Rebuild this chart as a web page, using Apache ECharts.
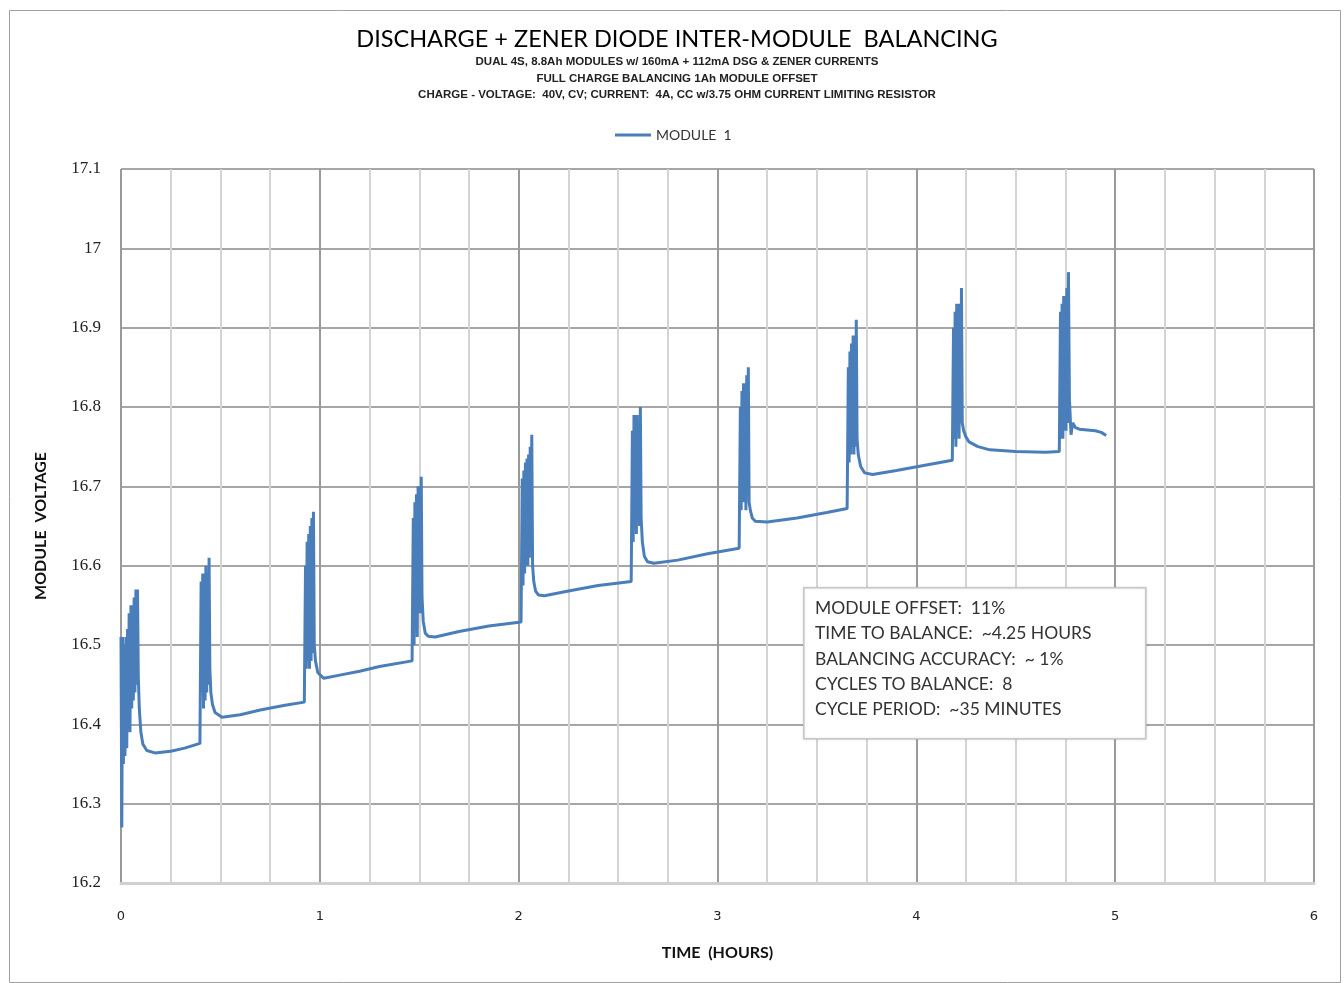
<!DOCTYPE html>
<html>
<head>
<meta charset="utf-8">
<script src="https://cdn.jsdelivr.net/npm/echarts@6/dist/echarts.min.js"></script>
<style>html,body{margin:0;padding:0;background:#fff}#c{width:1344px;height:983px}</style>
</head>
<body>
<div id="c"></div>
<script>
// Time (hours) and module voltage (V)
const timeHours = [
  0.000,0.004,0.008,0.012,0.016,0.020,0.025,0.029,0.033,0.037,0.041,0.045,0.050,0.054,0.058,0.062,0.066,0.070,0.075,0.079,0.083,0.087,0.092,0.100,0.110,0.130,0.170,0.250,0.320,0.397,
  0.400,0.403,0.407,0.411,0.415,0.419,0.423,0.427,0.431,0.435,0.439,0.443,0.447,0.452,0.460,0.473,0.508,0.600,0.700,0.825,0.922,
  0.925,0.928,0.932,0.936,0.940,0.944,0.948,0.952,0.956,0.960,0.964,0.968,0.972,0.978,0.990,1.020,1.100,1.200,1.300,1.464,
  1.467,1.470,1.474,1.478,1.482,1.486,1.490,1.494,1.498,1.502,1.506,1.510,1.514,1.520,1.530,1.545,1.580,1.700,1.850,2.012,
  2.015,2.018,2.022,2.026,2.030,2.034,2.038,2.042,2.046,2.050,2.054,2.058,2.062,2.066,2.070,2.076,2.085,2.100,2.130,2.250,2.400,2.566,
  2.569,2.572,2.576,2.580,2.584,2.588,2.592,2.596,2.600,2.604,2.608,2.612,2.616,2.622,2.632,2.648,2.680,2.800,2.950,3.109,
  3.112,3.115,3.119,3.123,3.127,3.131,3.135,3.139,3.143,3.147,3.151,3.155,3.159,3.165,3.175,3.190,3.250,3.400,3.550,3.652,
  3.655,3.658,3.662,3.666,3.670,3.674,3.678,3.682,3.686,3.690,3.694,3.698,3.702,3.708,3.720,3.740,3.780,3.900,4.050,4.181,
  4.184,4.187,4.191,4.195,4.199,4.203,4.207,4.211,4.215,4.219,4.223,4.227,4.231,4.238,4.250,4.265,4.310,4.370,4.500,4.650,4.719,
  4.722,4.725,4.729,4.733,4.737,4.741,4.745,4.749,4.753,4.757,4.761,4.765,4.770,4.778,4.786,4.800,4.820,4.900,4.930,4.955
];
const moduleVoltage = [
  16.51,16.27,16.51,16.35,16.50,16.36,16.51,16.37,16.52,16.40,16.54,16.39,16.55,16.42,16.55,16.43,16.56,16.44,16.57,16.45,16.57,16.46,16.42,16.39,16.375,16.367,16.364,16.366,16.370,16.376,
  16.376,16.58,16.44,16.59,16.42,16.59,16.43,16.60,16.44,16.59,16.45,16.61,16.47,16.44,16.425,16.415,16.409,16.412,16.418,16.424,16.428,
  16.428,16.60,16.47,16.63,16.48,16.64,16.47,16.65,16.48,16.66,16.49,16.668,16.50,16.48,16.465,16.458,16.462,16.467,16.473,16.480,
  16.480,16.66,16.50,16.68,16.52,16.69,16.51,16.70,16.55,16.70,16.54,16.712,16.56,16.53,16.515,16.511,16.510,16.517,16.524,16.529,
  16.529,16.71,16.575,16.72,16.59,16.73,16.60,16.735,16.60,16.74,16.61,16.75,16.62,16.765,16.60,16.58,16.568,16.563,16.562,16.568,16.575,16.580,
  16.580,16.77,16.63,16.79,16.65,16.79,16.64,16.79,16.66,16.78,16.65,16.80,16.66,16.63,16.612,16.605,16.603,16.607,16.615,16.622,
  16.622,16.80,16.67,16.82,16.68,16.83,16.68,16.83,16.67,16.84,16.69,16.85,16.68,16.67,16.66,16.656,16.655,16.660,16.667,16.672,
  16.672,16.85,16.73,16.87,16.74,16.88,16.75,16.89,16.74,16.89,16.75,16.91,16.76,16.74,16.725,16.717,16.715,16.720,16.727,16.733,
  16.733,16.90,16.76,16.92,16.75,16.93,16.77,16.93,16.76,16.93,16.78,16.95,16.78,16.77,16.762,16.756,16.750,16.746,16.744,16.743,16.744,
  16.744,16.92,16.76,16.93,16.76,16.94,16.77,16.94,16.77,16.95,16.78,16.97,16.81,16.765,16.78,16.774,16.772,16.770,16.768,16.764
];
const seriesName = 'MODULE  1';
const titleText = 'DISCHARGE + ZENER DIODE INTER-MODULE  BALANCING';
const subtitleLines = [
  'DUAL 4S, 8.8Ah MODULES w/ 160mA + 112mA DSG & ZENER CURRENTS',
  'FULL CHARGE BALANCING 1Ah MODULE OFFSET',
  'CHARGE - VOLTAGE:  40V, CV; CURRENT:  4A, CC w/3.75 OHM CURRENT LIMITING RESISTOR'
];
const noteLines = [
  'MODULE OFFSET:  11%',
  'TIME TO BALANCE:  ~4.25 HOURS',
  'BALANCING ACCURACY:  ~ 1%',
  'CYCLES TO BALANCE:  8',
  'CYCLE PERIOD:  ~35 MINUTES'
];

const pairs = timeHours.map((t, i) => [t, moduleVoltage[i]]);
const font = 'Lato, "Open Sans", sans-serif';

const chart = echarts.init(document.getElementById('c'), null, {renderer: 'canvas'});
chart.setOption({
  animation: false,
  backgroundColor: '#fff',
  title: [
    {text: titleText, left: 672, top: 22, textAlign: 'center',
     textStyle: {fontFamily: font, fontSize: 23.5, fontWeight: 'normal', color: '#000'}},
    {text: subtitleLines.join('\n'), left: 672, top: 49, textAlign: 'center',
     textStyle: {fontFamily: '"Liberation Sans Narrow", "Liberation Sans", sans-serif', fontSize: 11.5, fontWeight: 'bold', color: '#222', lineHeight: 16.5}}
  ],
  legend: {
    top: 123, left: 610, itemWidth: 36, itemHeight: 3, itemGap: 2,
    icon: 'rect',
    textStyle: {fontFamily: font, fontSize: 14, color: '#333'},
    data: [seriesName]
  },
  grid: {left: 121, right: 30, top: 169, bottom: 100, show: true, borderColor: '#aaa', borderWidth: 1},
  xAxis: {
    type: 'value', min: 0, max: 6, interval: 1,
    name: 'TIME  (HOURS)', nameLocation: 'middle', nameGap: 62,
    nameTextStyle: {fontFamily: font, fontSize: 16, fontWeight: 'bold', color: '#111'},
    axisLine: {show: true, lineStyle: {color: '#d0d0d0', width: 3}},
    axisTick: {show: false},
    axisLabel: {margin: 27, fontFamily: '"DejaVu Sans", sans-serif', fontSize: 13, color: '#222'},
    splitLine: {show: true, lineStyle: {color: '#9a9a9a', width: 2}},
    minorTick: {show: false, splitNumber: 4},
    minorSplitLine: {show: true, lineStyle: {color: '#d4d4d4', width: 2}}
  },
  yAxis: {
    type: 'value', min: 16.2, max: 17.1, interval: 0.1,
    name: 'MODULE  VOLTAGE', nameLocation: 'middle', nameGap: 72,
    nameTextStyle: {fontFamily: font, fontSize: 16, fontWeight: 'bold', color: '#111'},
    axisLine: {show: true, lineStyle: {color: '#999', width: 1}},
    axisTick: {show: false},
    axisLabel: {margin: 20, fontFamily: '"Liberation Serif", serif', fontSize: 17, color: '#222',
      formatter: v => String(Math.round(v * 10) / 10)},
    splitLine: {show: true, lineStyle: {color: '#a6a6a6', width: 2}}
  },
  series: [{
    name: seriesName, type: 'line', data: pairs, showSymbol: false, symbol: 'none',
    lineStyle: {color: '#4a7ebb', width: 3}, itemStyle: {color: '#4a7ebb'}, z: 5
  }],
  graphic: [
    {type: 'rect', left: 7, top: 8, z: -1, shape: {width: 1331, height: 972},
     style: {fill: 'none', stroke: '#a0a0a0', lineWidth: 1}},
    {type: 'rect', left: 803, top: 587, z: 100, zlevel: 0, shape: {x: 0, y: 0, width: 342, height: 151},
     style: {fill: '#ffffff', stroke: '#c8c8c8', lineWidth: 1.5, shadowBlur: 2, shadowColor: 'rgba(0,0,0,0.15)'}},
    {type: 'text', left: 815, top: 596, z: 101,
     style: {text: noteLines.join('\n'), fontFamily: font, fontSize: 17.5, lineHeight: 25.2, fill: '#333'}}
  ]
});
</script>
</body>
</html>
